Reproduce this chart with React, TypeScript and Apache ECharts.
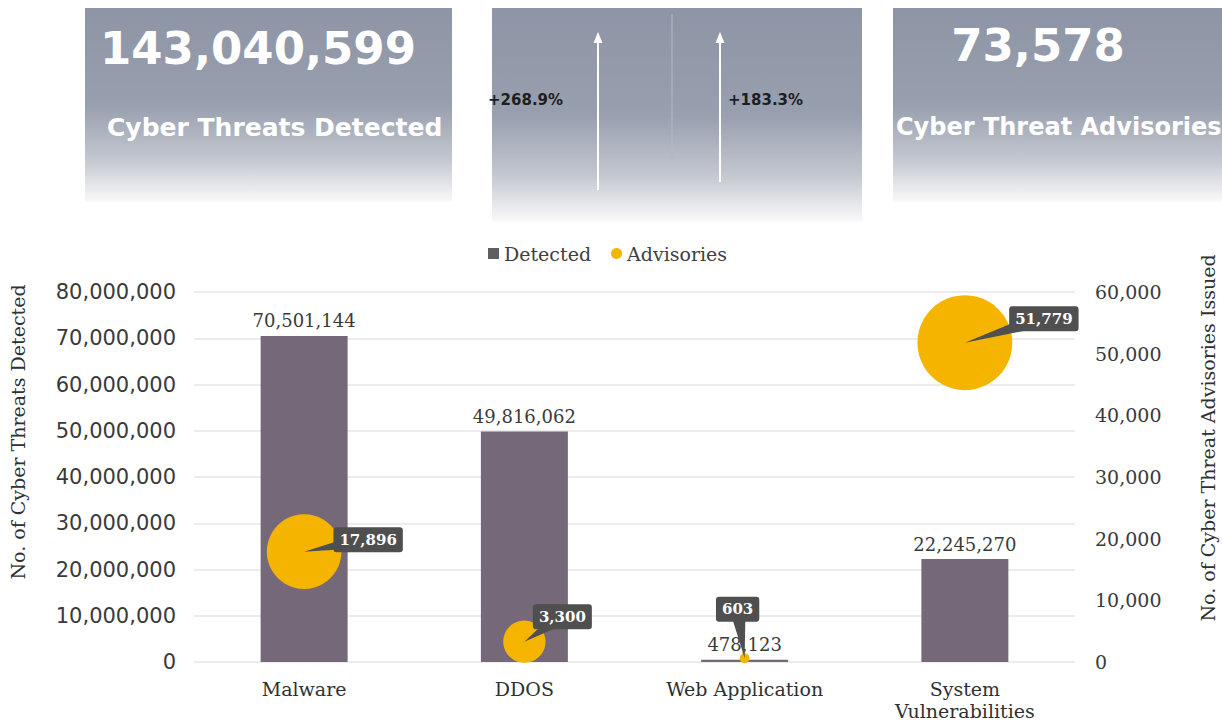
import React, { useEffect, useRef } from "react";
import * as echarts from "echarts";

// ---- data ----
const categories = ["Malware", "DDOS", "Web Application", "System\nVulnerabilities"];
const detected = [70501144, 49816062, 478123, 22245270];
const advisories = [17896, 3300, 603, 51779];
const leftAxisMax = 80000000;
const leftAxisStep = 10000000;
const rightAxisMax = 60000;
const rightAxisStep = 10000;
const kpiDetected = "143,040,599";
const kpiDetectedLabel = "Cyber Threats Detected";
const kpiAdvisories = "73,578";
const kpiAdvisoriesLabel = "Cyber Threat Advisories";
const growthDetected = "+268.9%";
const growthAdvisories = "+183.3%";
const seriesNames = ["Detected", "Advisories"];
const leftAxisTitle = "No. of Cyber Threats Detected";
const rightAxisTitle = "No. of Cyber Threat Advisories Issued";

// ---- styling ----
const labelOffsets = [
  [64, -12],
  [38, -25],
  [-7, -49],
  [79, -24],
];
const SERIF = '"DejaVu Serif", serif';
const SANS = '"DejaVu Sans", sans-serif';
const CALLOUT = "#4f4f4f";
const fmt = (v: number) => v.toLocaleString("en-US");

function panelFill() {
  return new echarts.graphic.LinearGradient(0, 0, 0, 1, [
    { offset: 0, color: "#8d95a6" },
    { offset: 0.5, color: "#989fae" },
    { offset: 0.78, color: "#c3c7cf" },
    { offset: 1, color: "#fafafb" },
  ]);
}

function arrow(x: number, yTop: number, yBottom: number) {
  return [
    {
      type: "line",
      z: 2,
      shape: { x1: x, y1: yBottom, x2: x, y2: yTop + 8 },
      style: { stroke: "#ffffff", lineWidth: 2 },
    },
    {
      type: "polygon",
      z: 2,
      shape: { points: [[x, yTop], [x - 4.5, yTop + 11], [x + 4.5, yTop + 11]] },
      style: { fill: "#ffffff" },
    },
  ];
}

export default function App() {
  const ref = useRef<HTMLDivElement>(null);

  useEffect(() => {
    if (!ref.current) return;
    const chart = echarts.init(ref.current, undefined, { renderer: "svg" });

    const calloutRender = (params: any, api: any) => {
      const i = params.dataIndex;
      const c = api.coord([api.value(0), api.value(1)]);
      const [dx, dy] = labelOffsets[i];
      const lx = c[0] + dx;
      const ly = c[1] + dy;
      const len = Math.sqrt(dx * dx + dy * dy) || 1;
      const px = (-dy / len) * 8;
      const py = (dx / len) * 8;
      return {
        type: "group",
        children: [
          {
            type: "polygon",
            shape: { points: [[c[0], c[1]], [lx + px, ly + py], [lx - px, ly - py]] },
            style: { fill: CALLOUT },
          },
          {
            type: "text",
            x: lx,
            y: ly,
            style: {
              text: fmt(api.value(1)),
              fill: "#ffffff",
              fontFamily: SERIF,
              fontSize: 15,
              fontWeight: "bold",
              align: "center",
              verticalAlign: "middle",
              backgroundColor: CALLOUT,
              padding: [5, 6, 5, 6],
              borderRadius: 3,
            },
          },
        ],
      };
    };

    const option: any = {
      animation: false,
      backgroundColor: "#ffffff",
      graphic: [
        { type: "rect", shape: { x: 85, y: 8, width: 367, height: 194 }, style: { fill: panelFill() }, z: 0 },
        { type: "rect", shape: { x: 492, y: 8, width: 370, height: 214 }, style: { fill: panelFill() }, z: 0 },
        { type: "rect", shape: { x: 893, y: 8, width: 340, height: 194 }, style: { fill: panelFill() }, z: 0 },
        {
          type: "text", x: 100, y: 48, z: 2,
          style: { text: kpiDetected, fill: "#ffffff", fontSize: 45, fontWeight: "bold", fontFamily: SANS, verticalAlign: "middle" },
        },
        {
          type: "text", x: 107, y: 127, z: 2,
          style: { text: kpiDetectedLabel, fill: "#ffffff", fontSize: 25, fontWeight: "bold", fontFamily: SANS, verticalAlign: "middle" },
        },
        {
          type: "line", z: 1,
          shape: { x1: 672, y1: 14, x2: 672, y2: 160 },
          style: { stroke: "#b3b8c4", lineWidth: 1 },
        },
        ...arrow(598, 32, 190),
        ...arrow(720, 32, 182),
        {
          type: "text", x: 488, y: 100, z: 2,
          style: { text: growthDetected, fill: "#1e1e1e", fontSize: 15, fontWeight: "bold", fontFamily: SANS, verticalAlign: "middle" },
        },
        {
          type: "text", x: 728, y: 100, z: 2,
          style: { text: growthAdvisories, fill: "#1e1e1e", fontSize: 15, fontWeight: "bold", fontFamily: SANS, verticalAlign: "middle" },
        },
        {
          type: "text", x: 1038, y: 45, z: 2,
          style: { text: kpiAdvisories, fill: "#ffffff", fontSize: 45, fontWeight: "bold", fontFamily: SANS, align: "center", verticalAlign: "middle" },
        },
        {
          type: "text", x: 896, y: 127, z: 2,
          style: { text: kpiAdvisoriesLabel, fill: "#ffffff", fontSize: 24, fontWeight: "bold", fontFamily: SANS, verticalAlign: "middle" },
        },
        {
          type: "text", x: 18, y: 432, rotation: Math.PI / 2, z: 2,
          style: { text: leftAxisTitle, fill: "#303030", fontSize: 19, fontFamily: SERIF, align: "center", verticalAlign: "middle" },
        },
        {
          type: "text", x: 1208, y: 438, rotation: Math.PI / 2, z: 2,
          style: { text: rightAxisTitle, fill: "#303030", fontSize: 19, fontFamily: SERIF, align: "center", verticalAlign: "middle" },
        },
      ],
      legend: {
        top: 244,
        left: 488,
        padding: 0,
        itemGap: 20,
        itemWidth: 11,
        itemHeight: 11,
        textStyle: { fontFamily: SERIF, fontSize: 19, color: "#404040" },
        data: [
          { name: seriesNames[0], icon: "rect", itemStyle: { color: "#5f5f5f" } },
          { name: seriesNames[1], icon: "circle", itemStyle: { color: "#f5b400" } },
        ],
      },
      grid: { left: 194, right: 147, top: 292, bottom: 63, containLabel: false },
      xAxis: {
        type: "category",
        data: categories,
        axisLine: { show: false },
        axisTick: { show: false },
        axisLabel: { fontFamily: SERIF, fontSize: 19, color: "#303030", margin: 16, lineHeight: 22 },
      },
      yAxis: [
        {
          type: "value",
          min: 0,
          max: leftAxisMax,
          interval: leftAxisStep,
          axisLabel: { fontFamily: SANS, fontSize: 21, color: "#3a3a3a", margin: 18, formatter: (v: number) => fmt(v) },
          splitLine: { lineStyle: { color: "#e6e6e6", width: 1.5 } },
          axisLine: { show: false },
          axisTick: { show: false },
        },
        {
          type: "value",
          min: 0,
          max: rightAxisMax,
          interval: rightAxisStep,
          position: "right",
          axisLabel: { fontFamily: SERIF, fontSize: 19, color: "#3a3a3a", margin: 20, formatter: (v: number) => fmt(v) },
          splitLine: { show: false },
          axisLine: { show: false },
          axisTick: { show: false },
        },
      ],
      series: [
        {
          name: seriesNames[0],
          type: "bar",
          yAxisIndex: 0,
          data: detected,
          barWidth: "39.5%",
          itemStyle: { color: "#756878" },
          label: {
            show: true,
            position: "top",
            distance: 6,
            fontFamily: SERIF,
            fontSize: 18,
            color: "#3a3a3a",
            formatter: (p: any) => fmt(p.value),
          },
          z: 2,
        },
        {
          name: seriesNames[1],
          type: "scatter",
          yAxisIndex: 1,
          data: advisories,
          symbol: "circle",
          symbolSize: (v: number) => Math.max(8, 44 * Math.log10(v) - 112.5),
          itemStyle: { color: "#f5b400", opacity: 1 },
          z: 5,
        },
        {
          name: "Advisory callouts",
          type: "custom",
          yAxisIndex: 1,
          data: advisories.map((v, i) => [i, v]),
          renderItem: calloutRender,
          silent: true,
          z: 6,
        },
      ],
    };

    chart.setOption(option);
    return () => chart.dispose();
  }, []);

  return (
    <div
      ref={ref}
      style={{ position: "fixed", left: 0, top: 0, width: 1222, height: 725, background: "#fff" }}
    />
  );
}
